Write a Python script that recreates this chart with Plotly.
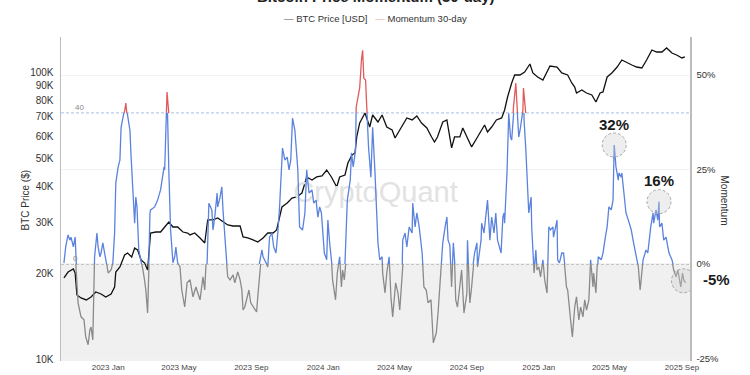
import pandas as pd
import plotly.graph_objects as go

# ---------------- data ----------------
price_dates = [
    "2022-10-18", "2022-10-25", "2022-11-03", "2022-11-06", "2022-11-09", "2022-11-16",
    "2022-11-25", "2022-12-03", "2022-12-11", "2022-12-20", "2022-12-28", "2023-01-06",
    "2023-01-12", "2023-01-14", "2023-01-21", "2023-01-29", "2023-02-03", "2023-02-10",
    "2023-02-15", "2023-02-20", "2023-02-26", "2023-03-04", "2023-03-09", "2023-03-14",
    "2023-03-23", "2023-03-31", "2023-04-07", "2023-04-14", "2023-04-21", "2023-04-29",
    "2023-05-08", "2023-05-16", "2023-05-20", "2023-05-28", "2023-06-06", "2023-06-14",
    "2023-06-19", "2023-06-28", "2023-07-06", "2023-07-15", "2023-07-23", "2023-08-01",
    "2023-08-13", "2023-08-18", "2023-08-26", "2023-09-04", "2023-09-12", "2023-09-21",
    "2023-09-29", "2023-10-08", "2023-10-14", "2023-10-23", "2023-11-01", "2023-11-09",
    "2023-11-17", "2023-11-26", "2023-12-04", "2023-12-13", "2023-12-21", "2023-12-30",
    "2024-01-07", "2024-01-15", "2024-01-24", "2024-01-29", "2024-02-07", "2024-02-12",
    "2024-02-19", "2024-02-24", "2024-02-27", "2024-03-03", "2024-03-12", "2024-03-20",
    "2024-03-25", "2024-04-03", "2024-04-10", "2024-04-18", "2024-04-27", "2024-05-02",
    "2024-05-10", "2024-05-22", "2024-05-31", "2024-06-08", "2024-06-16", "2024-06-25",
    "2024-07-03", "2024-07-08", "2024-07-13", "2024-07-22", "2024-07-29", "2024-08-03",
    "2024-08-06", "2024-08-11", "2024-08-20", "2024-08-25", "2024-09-01", "2024-09-09",
    "2024-09-18", "2024-09-26", "2024-10-01", "2024-10-06", "2024-10-13", "2024-10-21",
    "2024-10-30", "2024-11-04", "2024-11-09", "2024-11-16", "2024-11-21", "2024-11-30",
    "2024-12-08", "2024-12-17", "2024-12-22", "2024-12-30", "2025-01-08", "2025-01-20",
    "2025-02-01", "2025-02-09", "2025-02-19", "2025-02-26", "2025-03-03", "2025-03-06",
    "2025-03-15", "2025-03-23", "2025-04-01", "2025-04-08", "2025-04-15", "2025-04-20",
    "2025-04-27", "2025-05-05", "2025-05-14", "2025-05-22", "2025-05-31", "2025-06-08",
    "2025-06-16", "2025-06-25", "2025-07-03", "2025-07-12", "2025-07-20", "2025-07-29",
    "2025-08-06", "2025-08-15", "2025-08-23", "2025-09-01", "2025-09-06",
]
price_usd = [
    19280, 20220, 20720, 20060, 16830, 16430,
    16170, 16560, 17240, 16960, 16560, 16960,
    17940, 20220, 21050, 23170, 23550, 22800,
    24510, 24120, 22260, 21730, 20550, 27630,
    27850, 27850, 28990, 30180, 28990, 28990,
    27850, 27630, 27200, 27630, 26560, 25510,
    30670, 30670, 31170, 30180, 29460, 29230,
    29230, 26770, 26560, 26140, 25720, 26560,
    27630, 27630, 28310, 34030, 35140, 36570,
    36860, 38060, 43270, 42240, 43270, 43620,
    45750, 43270, 39930, 43270, 43960, 48390,
    51590, 52430, 59600, 66650, 72210, 64540,
    71060, 67190, 71060, 64540, 63010, 59120,
    63010, 69380, 68280, 70500, 66650, 64020,
    59600, 57250, 59600, 67190, 68280, 58170,
    54580, 59600, 59600, 64020, 59600, 55020,
    59120, 63010, 65590, 62000, 64540, 68280,
    69380, 73960, 82060, 91800, 97870, 97870,
    100240, 106880, 99450, 96320, 94030, 105170,
    104330, 99450, 97870, 91800, 88910, 84740,
    86800, 84740, 83400, 78860, 84740, 85420,
    96320, 99450, 104330, 110360, 107730, 106020,
    104330, 103510, 110360, 119560, 117660, 117660,
    121490, 116720, 114880, 112150, 113060,
]

mom_dates = [
    "2022-10-18", "2022-10-21", "2022-10-25", "2022-10-28", "2022-10-30", "2022-11-03",
    "2022-11-06", "2022-11-07", "2022-11-11", "2022-11-16", "2022-11-21", "2022-11-24",
    "2022-11-28", "2022-12-01", "2022-12-03", "2022-12-06", "2022-12-08", "2022-12-09",
    "2022-12-13", "2022-12-15", "2022-12-18", "2022-12-20", "2022-12-23", "2022-12-27",
    "2022-12-28", "2023-01-01", "2023-01-06", "2023-01-09", "2023-01-12", "2023-01-14",
    "2023-01-18", "2023-01-21", "2023-01-23", "2023-01-26", "2023-01-30", "2023-01-31",
    "2023-02-03", "2023-02-07", "2023-02-09", "2023-02-12", "2023-02-15", "2023-02-17",
    "2023-02-19", "2023-02-22", "2023-02-26", "2023-03-03", "2023-03-06", "2023-03-09",
    "2023-03-13", "2023-03-14", "2023-03-21", "2023-03-26", "2023-03-31", "2023-04-06",
    "2023-04-07", "2023-04-11", "2023-04-14", "2023-04-17", "2023-04-21", "2023-04-24",
    "2023-04-26", "2023-04-29", "2023-05-03", "2023-05-06", "2023-05-11", "2023-05-15",
    "2023-05-20", "2023-05-25", "2023-05-30", "2023-06-06", "2023-06-11", "2023-06-14",
    "2023-06-18", "2023-06-21", "2023-06-26", "2023-06-28", "2023-07-01", "2023-07-05",
    "2023-07-06", "2023-07-10", "2023-07-13", "2023-07-15", "2023-07-18", "2023-07-21",
    "2023-07-23", "2023-07-27", "2023-08-01", "2023-08-04", "2023-08-09", "2023-08-13",
    "2023-08-16", "2023-08-18", "2023-08-21", "2023-08-24", "2023-08-28", "2023-08-31",
    "2023-09-04", "2023-09-10", "2023-09-12", "2023-09-15", "2023-09-19", "2023-09-21",
    "2023-09-26", "2023-09-29", "2023-10-02", "2023-10-06", "2023-10-09", "2023-10-13",
    "2023-10-16", "2023-10-19", "2023-10-24", "2023-10-28", "2023-11-01", "2023-11-04",
    "2023-11-07", "2023-11-10", "2023-11-14", "2023-11-17", "2023-11-19", "2023-11-22",
    "2023-11-27", "2023-12-01", "2023-12-04", "2023-12-08", "2023-12-13", "2023-12-16",
    "2023-12-20", "2023-12-23", "2023-12-26", "2023-12-29", "2023-12-31", "2024-01-03",
    "2024-01-07", "2024-01-09", "2024-01-12", "2024-01-15", "2024-01-17", "2024-01-22",
    "2024-01-25", "2024-01-29", "2024-02-01", "2024-02-03", "2024-02-06", "2024-02-09",
    "2024-02-11", "2024-02-16", "2024-02-18", "2024-02-21", "2024-02-25", "2024-02-26",
    "2024-03-01", "2024-03-03", "2024-03-06", "2024-03-08", "2024-03-10", "2024-03-13",
    "2024-03-15", "2024-03-17", "2024-03-18", "2024-03-22", "2024-03-23", "2024-03-25",
    "2024-03-29", "2024-04-01", "2024-04-03", "2024-04-06", "2024-04-10", "2024-04-11",
    "2024-04-15", "2024-04-18", "2024-04-22", "2024-04-25", "2024-04-28", "2024-05-03",
    "2024-05-07", "2024-05-10", "2024-05-14", "2024-05-15", "2024-05-19", "2024-05-22",
    "2024-05-26", "2024-05-31", "2024-06-01", "2024-06-05", "2024-06-08", "2024-06-12",
    "2024-06-17", "2024-06-20", "2024-06-24", "2024-06-27", "2024-07-02", "2024-07-06",
    "2024-07-11", "2024-07-14", "2024-07-19", "2024-07-22", "2024-07-26", "2024-07-29",
    "2024-07-31", "2024-08-03", "2024-08-06", "2024-08-09", "2024-08-11", "2024-08-13",
    "2024-08-16", "2024-08-23", "2024-08-27", "2024-09-01", "2024-09-02", "2024-09-06",
    "2024-09-09", "2024-09-11", "2024-09-14", "2024-09-18", "2024-09-19", "2024-09-25",
    "2024-09-26", "2024-09-30", "2024-10-05", "2024-10-06", "2024-10-10", "2024-10-13",
    "2024-10-17", "2024-10-20", "2024-10-23", "2024-10-29", "2024-11-01", "2024-11-03",
    "2024-11-04", "2024-11-08", "2024-11-11", "2024-11-14", "2024-11-16", "2024-11-19",
    "2024-11-23", "2024-11-24", "2024-11-26", "2024-11-28", "2024-12-01", "2024-12-05",
    "2024-12-06", "2024-12-07", "2024-12-10", "2024-12-12", "2024-12-15", "2024-12-19",
    "2024-12-20", "2024-12-24", "2024-12-27", "2024-12-29", "2025-01-01", "2025-01-04",
    "2025-01-08", "2025-01-11", "2025-01-15", "2025-01-18", "2025-01-21", "2025-01-25",
    "2025-01-26", "2025-02-01", "2025-02-02", "2025-02-05", "2025-02-09", "2025-02-12",
    "2025-02-17", "2025-02-19", "2025-02-24", "2025-02-27", "2025-03-03", "2025-03-06",
    "2025-03-10", "2025-03-13", "2025-03-17", "2025-03-20", "2025-03-23", "2025-03-27",
    "2025-03-30", "2025-04-03", "2025-04-04", "2025-04-08", "2025-04-10", "2025-04-12",
    "2025-04-17", "2025-04-20", "2025-04-24", "2025-04-27", "2025-04-30", "2025-05-04",
    "2025-05-07", "2025-05-09", "2025-05-12", "2025-05-16", "2025-05-17", "2025-05-21",
    "2025-05-22", "2025-05-26", "2025-05-29", "2025-06-02", "2025-06-07", "2025-06-10",
    "2025-06-14", "2025-06-17", "2025-06-19", "2025-06-22", "2025-06-25", "2025-06-27",
    "2025-07-02", "2025-07-05", "2025-07-07", "2025-07-10", "2025-07-14", "2025-07-15",
    "2025-07-19", "2025-07-22", "2025-07-24", "2025-07-25", "2025-07-29", "2025-08-01",
    "2025-08-05", "2025-08-08", "2025-08-10", "2025-08-15", "2025-08-18", "2025-08-22",
    "2025-08-25", "2025-08-30", "2025-09-02", "2025-09-04", "2025-09-07",
]
mom_pct = [
    0.3, 4.5, 7.7, 6.3, 7.1, 4.5,
    7.1, 0.3, -10.3, -14.0, -14.8, -19.3,
    -21.4, -17.5, -16.7, -20.1, -3.4, 1.9,
    8.2, 4.5, 1.9, 2.9, 5.6, 1.9,
    1.6, -2.4, -1.6, 0.3, 8.2, 21.4,
    25.7, 27.5, 36.2, 38.1, 41.3, 42.6,
    39.4, 35.4, 28.3, 19.6, 10.8, 17.7,
    15.1, 3.7, 1.1, -3.4, -6.9, -13.0,
    13.5, 14.3, 15.1, 16.9, 19.6, 25.7,
    24.9, 45.5, 24.9, 9.0, 0.3, 1.9,
    4.5, 0.3, -0.8, -6.9, -11.4, -5.0,
    -4.2, -8.7, -6.1, -9.5, -3.4, -6.9,
    0.3, 16.1, 14.3, 9.0, 12.4, 18.8,
    15.1, 17.7, 20.4, 14.3, 6.3, 0.3,
    -3.4, -4.2, -2.9, -5.0, -2.1, -4.2,
    -6.9, -12.2, -11.4, -9.5, -6.9, -10.3,
    -11.4, -12.7, -8.7, 0.3, 3.7, 1.9,
    0.3, -0.8, 7.1, 8.2, 4.5, 2.9,
    8.2, 15.1, 30.7, 27.5, 28.3, 24.9,
    27.5, 38.6, 35.4, 28.3, 24.9, 9.8,
    9.0, 13.5, 24.9, 18.8, 19.6, 16.1,
    16.9, 12.4, 15.1, 13.5, 9.8, 2.9,
    1.1, 11.6, 5.6, 1.1, -4.2, -9.5,
    -2.4, 1.9, -6.1, -1.6, -4.2, 6.3,
    16.9, 22.2, 29.4, 25.7, 30.2, 41.5,
    45.2, 46.6, 54.0, 56.6, 49.2, 48.7,
    41.5, 34.7, 31.0, 23.0, 27.5, 36.2,
    24.1, 13.5, 5.6, 1.1, 1.9, -2.4,
    -7.7, -2.4, 1.9, -8.7, -14.0, -5.0,
    -7.7, -12.2, -2.4, 6.3, 8.2, 4.5,
    9.8, 8.2, 16.1, 9.8, 13.5, 9.8,
    2.9, -6.1, -6.9, -10.3, -9.5, -20.9,
    -18.3, -13.0, -0.8, 5.6, 9.8, 12.4,
    6.3, 5.0, -6.1, 5.6, 1.1, -9.5,
    -11.4, -1.6, -13.0, -7.7, 6.3, -10.3,
    -6.1, -0.8, 2.9, 5.6, -0.8, 6.3,
    10.8, 8.2, 16.1, 16.9, 6.3, 12.4,
    8.2, 13.5, 6.3, 2.9, 12.4, 13.5,
    10.8, 24.1, 39.9, 33.6, 32.8, 41.5,
    47.9, 44.2, 37.3, 33.6, 36.2, 40.7,
    46.6, 38.1, 30.2, 22.2, 13.5, 17.7,
    9.8, -2.4, 3.7, -1.6, -0.8, -3.4,
    1.1, -4.2, -7.7, 9.8, 9.0, 9.8,
    7.1, 11.6, 1.1, 0.3, 2.9, 2.9,
    -6.1, -6.9, -14.8, -19.3, -11.4, -8.7,
    -14.8, -11.4, -14.0, -9.5, -12.2, -9.5,
    1.1, -6.1, -2.4, -7.7, -0.8, 1.9,
    1.1, 2.9, 7.1, 9.8, 15.1, 14.3,
    16.9, 31.5, 25.7, 22.2, 24.1, 23.0,
    24.1, 17.7, 13.5, 11.6, 9.0, 6.3,
    2.9, 1.1, -0.8, -6.9, -1.6, 1.1,
    3.7, 2.9, 5.6, 9.8, 13.5, 10.8,
    14.3, 11.6, 16.5, 9.8, 10.8, 6.3,
    7.1, 4.5, 2.9, 1.1, -1.6, -3.4,
    -1.6, -6.1, -2.4, -4.2, -5.0,
]

x_tick_dates = ["2023-01-01", "2023-05-01", "2023-09-01", "2024-01-01", "2024-05-01",
                "2024-09-01", "2025-01-01", "2025-05-01", "2025-09-01"]
x_tick_labels = ["2023 Jan", "2023 May", "2023 Sep", "2024 Jan", "2024 May",
                 "2024 Sep", "2025 Jan", "2025 May", "2025 Sep"]
price_tick_vals = [10000, 20000, 30000, 40000, 50000, 60000, 70000, 80000, 90000, 100000]
price_tick_labels = ["10K", "20K", "30K", "40K", "50K", "60K", "70K", "80K", "90K", "100K"]
mom_tick_vals = [-25, 0, 25, 50]
mom_tick_labels = ["-25%", "0%", "25%", "50%"]
low_threshold = 0
high_threshold = 40
callout_dates = ["2025-05-09", "2025-07-24", "2025-09-07"]
callout_labels = ["32%", "16%", "-5%"]

# ---------------- layout constants ----------------
W, H = 750, 375
ML, MR, MT, MB = 61, 60, 37, 14
PLOT_W, PLOT_H = W - ML - MR, H - MT - MB
X_RANGE = ["2022-10-13", "2025-09-14 16:00"]
PRICE_LOG_RANGE = [3.9965, 5.1227]
MOM_RANGE = [-25.7, 60.1]
FONT = "Liberation Sans, Arial, sans-serif"
BLUE, RED, GREY = "#5a82de", "#e05a5a", "#8a8a8a"
CLEAR = "rgba(0,0,0,0)"

span = MOM_RANGE[1] - MOM_RANGE[0]
f_low = (low_threshold - MOM_RANGE[0]) / span
f_high = (high_threshold - MOM_RANGE[0]) / span

fig = go.Figure()

# watermark (drawn first, under every line)
x0, x1 = pd.Timestamp(X_RANGE[0]), pd.Timestamp(X_RANGE[1])
fig.add_trace(go.Scatter(
    x=[x0 + (x1 - x0) / 2], y=[sum(MOM_RANGE) / 2 + 1], yaxis="y2", mode="text",
    text=["CryptoQuant"], textfont=dict(size=29, color="#e2e2e2", family=FONT),
    hoverinfo="skip", showlegend=False))

# BTC price
fig.add_trace(go.Scatter(
    x=price_dates, y=price_usd, yaxis="y", mode="lines",
    line=dict(color="#111111", width=1.3), hoverinfo="skip", showlegend=False))

# momentum line drawn three times, each clipped to its own band
bands = [("y3", GREY), ("y4", BLUE), ("y5", RED)]
for ax, col in bands:
    fig.add_trace(go.Scatter(
        x=mom_dates, y=mom_pct, yaxis=ax, mode="lines",
        line=dict(color=col, width=1.3), hoverinfo="skip", showlegend=False))

shapes = [
    dict(type="rect", xref="paper", x0=0, x1=1, yref="y2", y0=MOM_RANGE[0], y1=low_threshold,
         fillcolor="#f0f0f0", line=dict(width=0), layer="below"),
    dict(type="line", xref="paper", x0=0, x1=1, yref="y2", y0=low_threshold, y1=low_threshold,
         line=dict(color="#8c8c8c", width=1, dash="3px,2px"), layer="below"),
    dict(type="line", xref="paper", x0=0, x1=1, yref="y2", y0=high_threshold, y1=high_threshold,
         line=dict(color="#a8bfe8", width=1, dash="3px,2px"), layer="below"),
]
annotations = []
for i, (d, lab) in enumerate(zip(callout_dates, callout_labels)):
    v = mom_pct[mom_dates.index(d)]
    last = i == len(callout_dates) - 1
    dx = -2 if last else 0
    dy = 2 if last else 0
    shapes.append(dict(type="circle", xref="x", yref="y2", xsizemode="pixel", ysizemode="pixel",
                       xanchor=d, yanchor=v, x0=-12 + dx, x1=12 + dx, y0=-12 + dy, y1=12 + dy,
                       line=dict(color="#a8a8a8", width=1, dash="3px,2px"),
                       fillcolor="rgba(205,205,205,0.35)"))
    if not last:
        annotations.append(dict(x=d, y=v, xref="x", yref="y2", text=f"<b>{lab}</b>",
                                showarrow=False, yshift=21,
                                font=dict(size=15, color="#1a1a1a", family=FONT)))
    else:
        annotations.append(dict(x=d, y=v, xref="x", yref="y2", text=f"<b>{lab}</b>",
                                showarrow=False, xshift=31, yshift=3,
                                font=dict(size=15, color="#1a1a1a", family=FONT)))

annotations += [
    dict(xref="paper", yref="y2", x=12 / PLOT_W, y=high_threshold, yshift=5, text="40",
         showarrow=False, font=dict(size=8, color="#888", family=FONT)),
    dict(xref="paper", yref="y2", x=10 / PLOT_W, y=low_threshold, yshift=5, text="0",
         showarrow=False, font=dict(size=8, color="#888", family=FONT)),
    dict(xref="paper", yref="paper", x=0.5, y=1 + (MT + 4) / PLOT_H, yanchor="middle",
         text="<b>Bitcoin Price Momentum (30-day)</b>", showarrow=False,
         font=dict(size=15, color="#222", family=FONT)),
    dict(xref="paper", yref="paper", x=0.5, y=1 + (MT - 19) / PLOT_H, yanchor="middle",
         text="<span style='color:#555'>—</span> BTC Price [USD]   "
              "<span style='color:#e8a6a6'>—</span> Momentum 30-day",
         showarrow=False, font=dict(size=9.5, color="#333", family=FONT)),
    dict(xref="paper", yref="paper", x=(17 - ML) / PLOT_W, y=(H - MB - 200) / PLOT_H,
         text="BTC Price ($)", textangle=-90, showarrow=False,
         font=dict(size=10, color="#333", family=FONT)),
    dict(xref="paper", yref="paper", x=(732 - ML) / PLOT_W, y=(H - MB - 200) / PLOT_H,
         text="Momentum", textangle=90, showarrow=False,
         font=dict(size=10, color="#333", family=FONT)),
]

fig.update_layout(
    width=W, height=H, margin=dict(l=ML, r=MR, t=MT, b=MB, autoexpand=False),
    paper_bgcolor="white", plot_bgcolor=CLEAR,
    font=dict(family=FONT, color="#333"), showlegend=False,
    xaxis=dict(range=X_RANGE, type="date", tickvals=x_tick_dates, ticktext=x_tick_labels,
               showgrid=False, zeroline=False, showline=False, ticks="", automargin=False,
               tickfont=dict(size=8, color="#444"), anchor="y"),
    yaxis=dict(type="log", range=PRICE_LOG_RANGE, tickvals=price_tick_vals,
               ticktext=price_tick_labels, showgrid=False, zeroline=False, automargin=False,
               showline=True, linecolor="#bdbdbd", linewidth=1.5, ticks="",
               tickfont=dict(size=10, color="#333"), ticklabelstandoff=4),
    yaxis2=dict(overlaying="y", side="right", range=MOM_RANGE, tickvals=mom_tick_vals,
                ticktext=mom_tick_labels, showgrid=True, gridcolor="#f3f3f3",
                zeroline=False, showline=True, linecolor="#bdbdbd", linewidth=1.5,
                automargin=False, ticks="", tickfont=dict(size=9.5, color="#333"),
                ticklabelstandoff=3),
    yaxis3=dict(domain=[0, f_low], range=[MOM_RANGE[0], low_threshold], visible=False,
                anchor="x", automargin=False),
    yaxis4=dict(domain=[f_low, f_high], range=[low_threshold, high_threshold], visible=False,
                anchor="x", automargin=False),
    yaxis5=dict(domain=[f_high, 1], range=[high_threshold, MOM_RANGE[1]], visible=False,
                anchor="x", automargin=False),
    shapes=shapes, annotations=annotations,
)

fig.write_html(
    "out.html",
    config={"displayModeBar": False, "staticPlot": True},
    post_script="document.body.style.margin='0';document.body.style.overflow='hidden';",
)
